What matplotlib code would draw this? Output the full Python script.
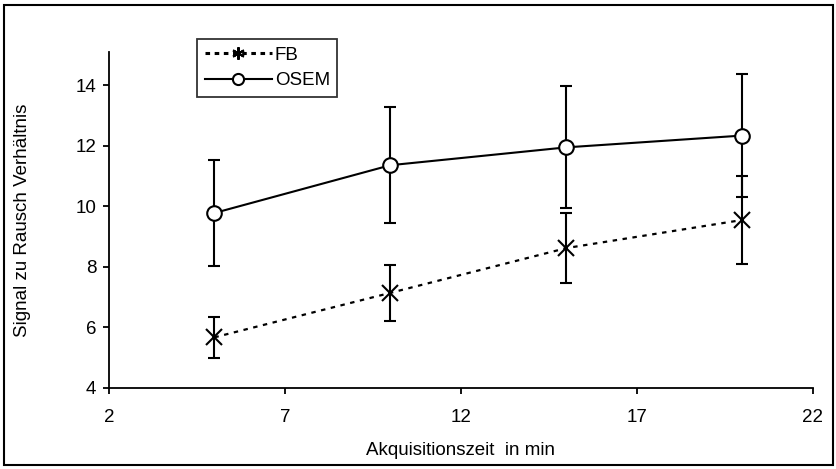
import matplotlib.pyplot as plt
from matplotlib.patches import Rectangle
from matplotlib.lines import Line2D

plt.rcParams['font.family'] = ['Liberation Sans', 'DejaVu Sans']

# Akquisitionszeit in min
zeit = [5, 10, 15, 20]

# Signal zu Rausch Verhältnis
fb = [5.67, 7.14, 8.62, 9.55]
fb_err = [0.68, 0.92, 1.17, 1.44]
osem = [9.78, 11.36, 11.95, 12.34]
osem_err = [1.75, 1.92, 2.02, 2.02]

xticks = [2, 7, 12, 17, 22]
yticks = [4, 6, 8, 10, 12, 14]

fs = 13.5
fb_style = dict(color='black', linestyle=(0, (2, 2.5)), linewidth=1.6,
                marker='x', markeredgewidth=1.5)
osem_style = dict(color='black', linestyle='-', linewidth=1.5, marker='o',
                  markerfacecolor='white', markeredgewidth=1.5)

fig = plt.figure(figsize=(8.37, 4.69), dpi=100)
ax = fig.add_axes([0.130, 0.173, 0.841, 0.716])

ax.errorbar(zeit, fb, yerr=fb_err, markersize=11, elinewidth=1.5,
            capsize=4.5, capthick=1.5, **fb_style)
ax.errorbar(zeit, osem, yerr=osem_err, markersize=10.5, elinewidth=1.5,
            capsize=4.5, capthick=1.5, **osem_style)

ax.set_xlim(2, 22)
ax.set_ylim(4, 15.1)
ax.set_xticks(xticks)
ax.set_yticks(yticks)
ax.spines['top'].set_visible(False)
ax.spines['right'].set_visible(False)
ax.spines['left'].set_linewidth(1.3)
ax.spines['bottom'].set_linewidth(1.3)
ax.tick_params(direction='out', length=4, width=1.3, labelsize=fs)
ax.tick_params(axis='x', pad=11)
ax.tick_params(axis='y', pad=5)

ax.set_xlabel('Akquisitionszeit  in min', fontsize=fs, labelpad=12)
ax.set_ylabel('Signal zu Rausch Verhältnis', fontsize=fs, labelpad=32)

fb_leg = dict(fb_style, marker=(6, 2, 0), linestyle=(0, (1.5, 1.5)), linewidth=2.2)
handles = [Line2D([], [], markersize=9, **fb_leg),
           Line2D([], [], markersize=8, **osem_style)]
leg = fig.legend(handles, ['FB', 'OSEM'], loc='upper left',
                 bbox_to_anchor=(0.2354, 0.917), bbox_transform=fig.transFigure,
                 frameon=True, fancybox=False, edgecolor='black', fontsize=fs,
                 handlelength=3.6, handletextpad=0.15, borderpad=0.4,
                 labelspacing=0.45, borderaxespad=0)
leg.get_frame().set_linewidth(1.3)

# Rahmen um die ganze Grafik
fig.patches.append(Rectangle((0.005, 0.008), 0.99, 0.982, transform=fig.transFigure,
                             fill=False, edgecolor='black', linewidth=1.5))

fig.savefig('out.png', dpi=100)
